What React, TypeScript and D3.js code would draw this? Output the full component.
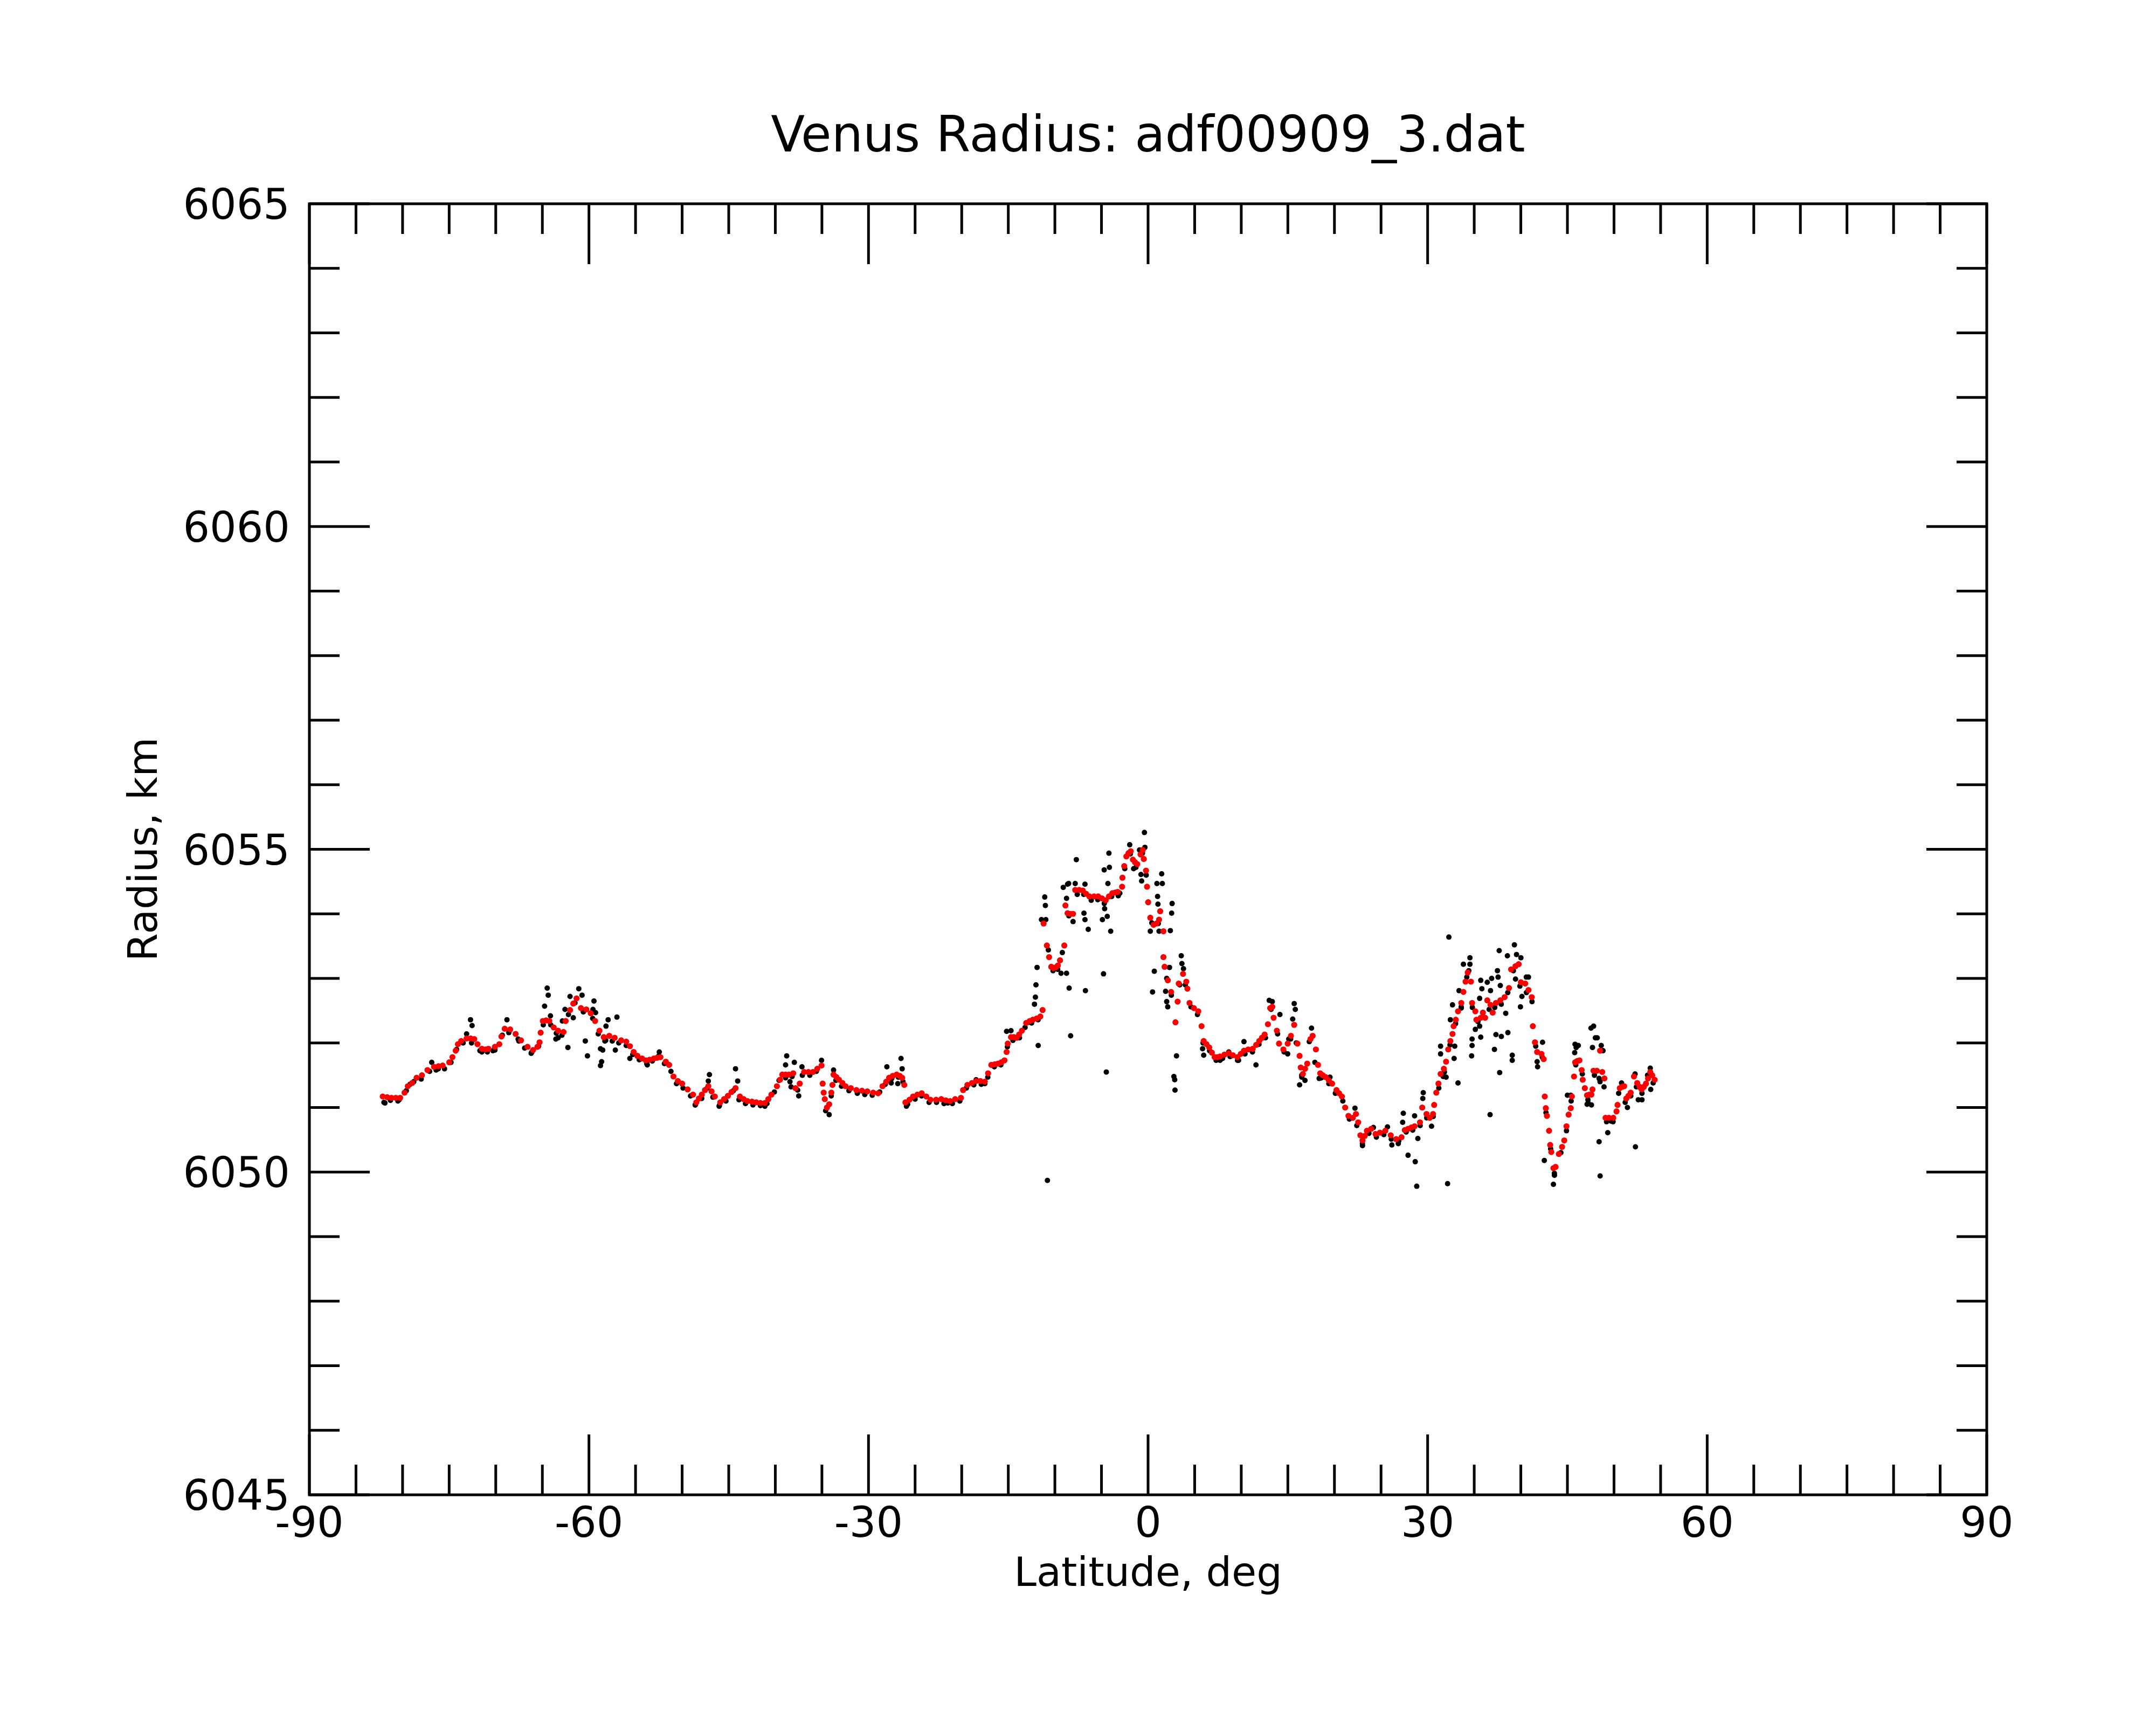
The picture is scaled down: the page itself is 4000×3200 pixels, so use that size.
import { useMemo } from 'react';
import * as d3 from 'd3';

// Smoothed radius (red), [latitude deg, radius km]
const smoothSouth: [number, number][] = [
  [-82.13, 6051.17], [-81.65, 6051.16], [-81.19, 6051.15], [-80.72, 6051.15], [-80.26, 6051.15], [-79.79, 6051.23],
  [-79.44, 6051.33], [-78.97, 6051.38], [-78.5, 6051.46], [-77.92, 6051.5], [-77.33, 6051.58], [-76.63, 6051.63],
  [-76.15, 6051.64], [-75.7, 6051.65], [-74.99, 6051.7], [-74.65, 6051.78], [-74.3, 6051.88], [-74.06, 6051.98],
  [-73.71, 6052.03], [-73.13, 6052.07], [-72.7, 6052.07], [-72.31, 6052.06], [-71.96, 6051.98], [-71.49, 6051.91],
  [-71.1, 6051.9], [-70.79, 6051.91], [-70.09, 6051.94], [-69.62, 6051.98], [-69.39, 6052.1], [-69.04, 6052.22],
  [-68.45, 6052.21], [-67.87, 6052.14], [-67.29, 6052.04], [-66.59, 6051.94], [-66.0, 6051.89], [-65.53, 6051.94],
  [-65.3, 6052.01], [-65.18, 6052.16], [-64.95, 6052.34], [-64.6, 6052.35], [-64.25, 6052.34], [-63.78, 6052.24],
  [-63.31, 6052.19], [-62.73, 6052.17], [-62.5, 6052.34], [-62.03, 6052.51], [-61.68, 6052.61], [-61.33, 6052.69],
  [-60.86, 6052.54], [-60.28, 6052.52], [-59.81, 6052.46], [-59.34, 6052.34], [-58.87, 6052.19], [-58.41, 6052.09],
  [-57.82, 6052.11], [-57.24, 6052.08], [-56.54, 6052.04], [-56.0, 6052.02], [-55.6, 6051.95], [-55.2, 6051.86],
  [-54.8, 6051.8], [-54.3, 6051.76], [-53.9, 6051.73], [-53.5, 6051.74], [-53.03, 6051.76], [-52.7, 6051.77],
  [-52.33, 6051.78], [-51.75, 6051.71], [-51.4, 6051.66], [-50.93, 6051.48], [-50.46, 6051.41], [-50.0, 6051.37],
  [-49.41, 6051.28], [-48.83, 6051.2], [-48.48, 6051.08], [-48.2, 6051.14], [-47.89, 6051.2], [-47.55, 6051.27],
  [-47.19, 6051.33], [-46.84, 6051.25], [-46.49, 6051.17], [-45.91, 6051.08], [-45.5, 6051.13], [-45.09, 6051.18],
  [-44.7, 6051.24], [-44.27, 6051.3], [-43.8, 6051.17], [-43.4, 6051.13], [-42.99, 6051.1], [-42.5, 6051.09],
  [-42.05, 6051.08], [-41.6, 6051.07], [-41.12, 6051.07], [-40.75, 6051.13], [-40.42, 6051.2], [-39.83, 6051.33],
  [-39.5, 6051.43], [-39.25, 6051.51], [-38.9, 6051.51], [-38.54, 6051.51], [-38.08, 6051.53], [-37.84, 6051.3],
  [-37.38, 6051.37], [-36.91, 6051.55], [-36.45, 6051.55], [-35.97, 6051.55], [-35.5, 6051.6], [-35.04, 6051.65],
  [-34.92, 6051.37], [-34.81, 6051.23], [-34.69, 6051.13], [-34.46, 6051.0], [-34.22, 6051.05], [-33.99, 6051.23],
  [-33.87, 6051.35], [-33.75, 6051.51], [-33.45, 6051.47], [-33.17, 6051.43], [-32.8, 6051.38], [-32.47, 6051.33],
  [-31.9, 6051.3], [-31.3, 6051.27], [-30.7, 6051.26], [-30.13, 6051.25], [-29.5, 6051.23], [-28.96, 6051.22],
  [-28.5, 6051.33], [-28.1, 6051.4], [-27.79, 6051.46], [-27.4, 6051.49], [-26.98, 6051.51], [-26.65, 6051.49],
  [-26.39, 6051.46], [-26.16, 6051.35], [-26.04, 6051.08], [-25.6, 6051.12], [-25.22, 6051.17], [-24.75, 6051.2],
  [-24.29, 6051.22], [-23.8, 6051.17], [-23.35, 6051.12], [-22.75, 6051.12], [-22.19, 6051.13], [-21.7, 6051.11],
  [-21.25, 6051.1], [-20.7, 6051.13], [-20.08, 6051.15],
];

const smoothEquator: [number, number][] = [
  [-19.85, 6051.27], [-19.39, 6051.35], [-18.9, 6051.38], [-18.45, 6051.41], [-18.0, 6051.41], [-17.52, 6051.4],
  [-17.17, 6051.53], [-16.82, 6051.66], [-16.45, 6051.67], [-16.11, 6051.68], [-15.75, 6051.7], [-15.41, 6051.73],
  [-15.18, 6051.86], [-15.06, 6051.99], [-14.71, 6052.09], [-14.4, 6052.09], [-14.13, 6052.08], [-13.84, 6052.13],
  [-13.54, 6052.19], [-13.08, 6052.31], [-12.7, 6052.34], [-12.37, 6052.36], [-11.95, 6052.38], [-11.56, 6052.41],
  [-11.32, 6052.51], [-11.21, 6053.85], [-10.86, 6053.51], [-10.62, 6053.33], [-10.39, 6053.18], [-10.15, 6053.16],
  [-9.92, 6053.17], [-9.68, 6053.2], [-9.45, 6053.28], [-8.99, 6053.51], [-8.87, 6054.13], [-8.64, 6054.01],
  [-8.35, 6054.0], [-8.05, 6054.0], [-7.82, 6054.37], [-7.4, 6054.37], [-7.0, 6054.36], [-6.65, 6054.31],
  [-6.3, 6054.27], [-5.8, 6054.27], [-5.36, 6054.27], [-4.95, 6054.24], [-4.55, 6054.21], [-4.2, 6054.27],
  [-3.84, 6054.32], [-3.55, 6054.33], [-3.26, 6054.34], [-2.79, 6054.42], [-2.75, 6054.56], [-2.56, 6054.74],
  [-2.33, 6054.89], [-2.1, 6054.94], [-1.86, 6054.97], [-1.63, 6054.84], [-1.4, 6054.8], [-1.16, 6054.77],
  [-0.81, 6054.92], [-0.57, 6054.99], [-0.46, 6054.85], [-0.22, 6054.67], [-0.11, 6054.42], [0.01, 6054.18],
  [0.24, 6053.94], [0.59, 6053.83], [0.9, 6053.85], [1.18, 6053.91], [1.3, 6054.04], [1.65, 6053.73],
  [1.65, 6053.33], [1.77, 6053.18], [2.12, 6052.97], [2.47, 6052.79], [2.94, 6052.32], [3.17, 6052.64],
  [3.29, 6052.92], [3.75, 6053.07], [4.1, 6052.95], [4.22, 6052.84], [4.45, 6052.62], [4.92, 6052.54],
  [5.39, 6052.49], [5.74, 6052.26], [5.97, 6052.03], [6.27, 6051.98], [6.56, 6051.93], [6.85, 6051.85],
  [7.14, 6051.78], [7.43, 6051.78], [7.72, 6051.79], [8.2, 6051.82], [8.66, 6051.84], [9.1, 6051.81],
  [9.59, 6051.78], [9.95, 6051.83], [10.29, 6051.88], [10.75, 6051.9], [11.23, 6051.91], [11.6, 6051.97],
  [11.93, 6052.03], [12.22, 6052.08], [12.51, 6052.13], [12.86, 6052.29], [13.1, 6052.54], [13.33, 6052.56],
];

const smoothNorth: [number, number][] = [
  [13.47, 6052.39], [13.82, 6052.19], [14.05, 6051.99], [14.52, 6051.9], [14.98, 6051.99], [15.33, 6052.11],
  [15.68, 6052.28], [16.03, 6051.99], [16.26, 6051.8], [16.38, 6051.62], [16.61, 6051.52], [16.85, 6051.6],
  [17.08, 6051.68], [17.43, 6052.06], [17.66, 6052.11], [18.01, 6051.9], [18.24, 6051.66], [18.47, 6051.53],
  [18.75, 6051.5], [19.06, 6051.47], [19.4, 6051.42], [19.75, 6051.37], [20.22, 6051.27], [20.5, 6051.22],
  [20.8, 6051.17], [21.15, 6051.0], [21.5, 6050.87], [21.97, 6050.84], [22.31, 6050.9], [22.55, 6050.77],
  [22.78, 6050.57], [23.01, 6050.49], [23.25, 6050.56], [23.48, 6050.64], [23.94, 6050.67], [24.41, 6050.59],
  [24.88, 6050.61], [25.46, 6050.64], [26.04, 6050.57], [26.62, 6050.51], [27.2, 6050.54], [27.55, 6050.65],
  [27.9, 6050.67], [28.25, 6050.69], [28.6, 6050.71], [29.18, 6050.77], [29.42, 6051.0], [29.88, 6050.9],
  [30.23, 6050.84], [30.58, 6050.9], [30.7, 6051.04], [30.93, 6051.23], [31.16, 6051.37], [31.39, 6051.52],
  [31.74, 6051.6], [31.98, 6051.71], [32.21, 6051.9], [32.44, 6052.03], [32.67, 6052.14], [32.79, 6052.26],
  [33.02, 6052.36], [33.26, 6052.49], [33.61, 6052.62], [33.84, 6052.79], [34.07, 6052.95], [34.3, 6053.09],
  [34.65, 6052.95], [34.77, 6052.62], [35.12, 6052.49], [35.23, 6052.36], [35.7, 6052.39], [35.93, 6052.47],
  [36.17, 6052.39], [36.4, 6052.66], [36.75, 6052.59], [36.98, 6052.47], [37.33, 6052.62], [37.8, 6052.66],
  [38.26, 6052.71], [38.73, 6052.85], [38.96, 6053.14], [39.43, 6053.19], [39.77, 6053.22], [40.01, 6052.94],
  [40.47, 6052.92], [40.82, 6052.82], [41.17, 6052.71], [41.29, 6052.26], [41.52, 6052.01], [41.75, 6051.86],
  [42.22, 6051.83], [42.45, 6051.75], [42.57, 6051.17], [42.68, 6050.99], [42.8, 6050.87], [43.03, 6050.64],
  [43.15, 6050.42], [43.27, 6050.31], [43.5, 6050.06], [43.73, 6050.08], [44.08, 6050.28], [44.43, 6050.39],
  [44.66, 6050.49], [44.9, 6050.71], [45.13, 6050.89], [45.36, 6050.99], [45.48, 6051.17], [45.71, 6051.48],
  [45.83, 6051.7], [46.05, 6051.72], [46.29, 6051.73], [46.53, 6051.58], [46.64, 6051.43], [46.87, 6051.3],
  [47.11, 6051.19], [47.35, 6051.2], [47.57, 6051.2], [47.69, 6051.28], [47.8, 6051.57], [48.16, 6051.57],
  [48.5, 6051.88], [48.74, 6051.55], [48.97, 6051.45], [49.09, 6050.84], [49.45, 6050.84], [49.92, 6050.84],
  [50.27, 6050.94], [50.38, 6051.04], [50.62, 6051.3], [50.85, 6051.32], [51.09, 6051.33], [51.32, 6051.14],
  [51.55, 6051.18], [51.79, 6051.23], [52.14, 6051.48], [52.49, 6051.38], [52.75, 6051.32], [52.96, 6051.28],
  [53.2, 6051.32], [53.43, 6051.37], [53.65, 6051.45], [53.89, 6051.55], [54.1, 6051.5], [54.36, 6051.43],
];

// Raw radius (black): samples lying along the profile
const rawTrack: [number, number][] = [
  [-82.0, 6051.08], [-81.3, 6051.11], [-80.5, 6051.1], [-79.6, 6051.26], [-78.8, 6051.4], [-78.0, 6051.44],
  [-77.1, 6051.56], [-76.4, 6051.58], [-75.5, 6051.6], [-74.8, 6051.7], [-74.2, 6051.9], [-73.5, 6052.0],
  [-72.6, 6052.0], [-71.7, 6051.88], [-70.9, 6051.86], [-70.3, 6051.88], [-69.3, 6052.12], [-68.6, 6052.16],
  [-67.6, 6052.06], [-66.9, 6051.92], [-66.2, 6051.84], [-65.4, 6051.95], [-64.9, 6052.28], [-64.1, 6052.28],
  [-63.5, 6052.15], [-62.9, 6052.12], [-62.2, 6052.44], [-61.5, 6052.62], [-60.6, 6052.48], [-59.6, 6052.38],
  [-59.0, 6052.14], [-58.2, 6052.04], [-57.5, 6052.03], [-56.8, 6052.0], [-56.0, 6051.96], [-55.3, 6051.82],
  [-54.6, 6051.74], [-53.8, 6051.68], [-53.2, 6051.72], [-52.5, 6051.8], [-51.9, 6051.68], [-51.2, 6051.56],
  [-50.6, 6051.37], [-49.9, 6051.3], [-49.1, 6051.18], [-48.6, 6051.04], [-47.9, 6051.14], [-47.3, 6051.3],
  [-46.7, 6051.16], [-46.0, 6051.03], [-45.3, 6051.1], [-44.5, 6051.26], [-43.9, 6051.12], [-43.2, 6051.06],
  [-42.4, 6051.04], [-41.6, 6051.03], [-40.9, 6051.06], [-40.1, 6051.24], [-39.6, 6051.42], [-38.9, 6051.46],
  [-38.2, 6051.48], [-37.6, 6051.27], [-37.1, 6051.5], [-36.3, 6051.5], [-35.6, 6051.56], [-34.6, 6050.95],
  [-34.0, 6051.18], [-33.5, 6051.42], [-32.9, 6051.33], [-32.1, 6051.26], [-31.2, 6051.22], [-30.4, 6051.2],
  [-29.6, 6051.19], [-28.8, 6051.24], [-28.2, 6051.36], [-27.5, 6051.45], [-26.8, 6051.47], [-26.3, 6051.4],
  [-25.8, 6051.05], [-25.0, 6051.13], [-24.3, 6051.18], [-23.5, 6051.08], [-22.7, 6051.08], [-21.9, 6051.06],
  [-21.0, 6051.06], [-20.2, 6051.1], [-19.5, 6051.3], [-18.7, 6051.35], [-17.9, 6051.36], [-17.2, 6051.47],
  [-16.5, 6051.63], [-15.8, 6051.66], [-15.1, 6051.94], [-14.5, 6052.04], [-13.8, 6052.08], [-13.2, 6052.24],
  [-12.5, 6052.31], [-11.8, 6052.36], [-10.7, 6053.44], [-10.2, 6053.12], [-9.7, 6053.14], [-9.2, 6053.4],
  [-8.5, 6053.97], [-7.6, 6054.3], [-6.9, 6054.3], [-6.1, 6054.21], [-5.4, 6054.22], [-4.7, 6054.16],
  [-3.9, 6054.27], [-3.2, 6054.28], [-2.5, 6054.7], [-1.9, 6054.93], [-1.3, 6054.72], [-0.6, 6054.94],
  [-0.2, 6054.6], [0.4, 6053.86], [1.1, 6053.85], [2.0, 6053.0], [2.5, 6052.74], [3.4, 6052.9],
  [4.0, 6052.9], [4.6, 6052.56], [5.3, 6052.44], [5.9, 6052.0], [6.6, 6051.88], [7.3, 6051.73],
  [8.0, 6051.76], [8.8, 6051.79], [9.6, 6051.73], [10.4, 6051.83], [11.2, 6051.86], [11.9, 6051.98],
  [12.6, 6052.08], [13.2, 6052.52], [13.9, 6052.14], [14.6, 6051.86], [15.3, 6052.06], [15.9, 6052.0],
  [16.5, 6051.47], [17.3, 6052.02], [17.9, 6051.7], [18.6, 6051.46], [19.4, 6051.37], [20.1, 6051.22],
  [20.9, 6051.1], [21.6, 6050.82], [22.4, 6050.72], [23.0, 6050.44], [23.7, 6050.6], [24.5, 6050.54],
  [25.3, 6050.58], [26.1, 6050.51], [26.9, 6050.48], [27.7, 6050.62], [28.4, 6050.65], [29.2, 6050.72],
  [29.9, 6050.84], [30.6, 6050.86], [31.2, 6051.3], [31.8, 6051.55], [32.4, 6051.97], [33.0, 6052.3],
  [33.6, 6052.56], [34.2, 6053.02], [34.8, 6052.55], [35.4, 6052.33], [36.0, 6052.4], [36.6, 6052.52],
  [37.2, 6052.55], [37.9, 6052.6], [38.6, 6052.78], [39.2, 6053.12], [39.9, 6052.88], [40.6, 6052.78],
  [41.2, 6052.64], [41.6, 6051.95], [42.3, 6051.78], [42.7, 6050.92], [43.2, 6050.36], [43.6, 6049.98],
  [44.3, 6050.3], [44.9, 6050.64], [45.4, 6051.1], [45.9, 6051.66], [46.6, 6051.52], [47.2, 6051.12],
  [47.9, 6051.5], [48.5, 6051.4], [49.2, 6050.78], [49.9, 6050.78], [50.5, 6051.22], [51.2, 6051.08],
  [51.8, 6051.18], [52.4, 6051.32], [53.0, 6051.22], [53.6, 6051.5], [54.2, 6051.38],
];

// Raw radius (black): scattered samples away from the profile
const rawScatter: [number, number][] = [
  [-81.89, 6051.07], [-80.37, 6051.12], [-79.2, 6051.36], [-76.87, 6051.7], [-76.17, 6051.6], [-73.13, 6052.14],
  [-72.71, 6052.36], [-72.54, 6052.27], [-71.49, 6051.86], [-70.09, 6051.89], [-68.8, 6052.36], [-67.52, 6052.03],
  [-66.12, 6051.86], [-64.48, 6052.85], [-64.37, 6052.74], [-64.76, 6052.57], [-64.13, 6052.42], [-63.55, 6052.06],
  [-63.31, 6052.08], [-62.57, 6052.52], [-62.85, 6052.34], [-62.26, 6051.93], [-62.03, 6052.72], [-61.68, 6052.39],
  [-61.09, 6052.84], [-60.74, 6052.74], [-60.39, 6052.03], [-60.16, 6051.8], [-59.57, 6052.52], [-59.46, 6052.65],
  [-59.29, 6052.47], [-58.76, 6051.91], [-58.52, 6051.89], [-58.64, 6051.71], [-58.76, 6051.65], [-58.29, 6052.03],
  [-58.17, 6052.26], [-57.94, 6052.36], [-57.17, 6051.89], [-57.0, 6052.4], [-55.61, 6051.76], [-53.74, 6051.66],
  [-52.45, 6051.86], [-48.59, 6051.04], [-47.19, 6051.41], [-47.07, 6051.51], [-46.03, 6051.02], [-44.27, 6051.6],
  [-44.04, 6051.41], [-41.12, 6051.02], [-38.9, 6051.66], [-38.78, 6051.8], [-38.43, 6051.4], [-38.31, 6051.32],
  [-37.96, 6051.7], [-37.49, 6051.18], [-37.14, 6051.63], [-35.04, 6051.73], [-34.22, 6050.89], [-33.75, 6051.58],
  [-28.03, 6051.63], [-27.56, 6051.38], [-26.86, 6051.37], [-26.51, 6051.76], [-26.39, 6051.6], [-25.93, 6051.02],
  [-21.49, 6051.07], [-18.45, 6051.43], [-17.52, 6051.37], [-15.18, 6052.18], [-14.71, 6052.19], [-12.84, 6052.32],
  [-12.19, 6052.6], [-12.09, 6052.71], [-12.03, 6052.9], [-11.91, 6053.17], [-11.79, 6051.96], [-11.44, 6053.91],
  [-11.09, 6054.26], [-11.02, 6054.13], [-10.97, 6053.91], [-10.8, 6049.87], [-9.34, 6053.08], [-9.1, 6054.41],
  [-8.75, 6053.08], [-8.75, 6054.24], [-8.64, 6054.46], [-8.52, 6054.47], [-8.47, 6052.85], [-8.31, 6052.11],
  [-8.05, 6053.88], [-7.82, 6054.47], [-7.7, 6054.84], [-6.88, 6054.01], [-6.77, 6054.46], [-6.77, 6053.91],
  [-6.72, 6052.81], [-6.42, 6053.76], [-4.9, 6053.91], [-4.78, 6053.07], [-4.71, 6054.68], [-4.66, 6054.08],
  [-4.48, 6051.55], [-4.38, 6053.96], [-4.31, 6054.47], [-4.2, 6054.94], [-4.15, 6054.72], [-4.01, 6053.73],
  [-3.03, 6054.32], [-1.97, 6055.07], [-1.55, 6054.7], [-0.92, 6054.99], [-0.76, 6054.61], [-0.69, 6054.51],
  [-0.39, 6055.26], [-0.34, 6055.03], [0.24, 6053.73], [0.48, 6052.79], [0.67, 6053.11], [0.95, 6054.47],
  [1.02, 6054.27], [1.06, 6054.15], [1.18, 6053.73], [1.46, 6054.62], [1.53, 6054.47], [1.88, 6052.8],
  [2.0, 6052.64], [2.11, 6052.56], [2.3, 6053.17], [2.39, 6053.74], [2.53, 6054.01], [2.58, 6054.16],
  [2.77, 6051.48], [2.86, 6051.43], [2.89, 6051.27], [3.05, 6051.8], [3.56, 6053.35], [3.63, 6053.23],
  [3.8, 6053.15], [5.85, 6051.91], [5.97, 6051.81], [7.72, 6051.73], [8.66, 6051.86], [9.71, 6051.73],
  [10.29, 6052.02], [11.58, 6051.66], [13.0, 6052.66], [13.33, 6052.64], [14.15, 6052.44], [14.98, 6051.83],
  [15.1, 6052.06], [15.52, 6052.37], [15.68, 6052.61], [15.8, 6052.52], [16.26, 6051.35], [16.49, 6051.5],
  [16.84, 6051.42], [17.54, 6052.23], [18.36, 6051.45], [19.52, 6051.47], [22.2, 6050.99], [23.01, 6050.41],
  [24.18, 6050.69], [25.69, 6050.7], [26.16, 6050.42], [26.85, 6050.44], [27.32, 6050.77], [27.39, 6050.91],
  [27.9, 6050.26], [28.6, 6050.87], [28.67, 6050.16], [28.83, 6049.78], [28.95, 6050.52], [29.48, 6051.14],
  [29.53, 6051.23], [30.42, 6050.71], [31.39, 6051.95], [31.39, 6051.83], [31.67, 6051.48], [31.98, 6051.47],
  [32.14, 6049.82], [32.28, 6053.64], [32.44, 6052.36], [32.67, 6052.59], [32.84, 6051.76], [32.91, 6051.95],
  [33.26, 6051.38], [33.37, 6052.81], [33.61, 6052.54], [33.84, 6053.22], [34.42, 6053.12], [34.54, 6053.32],
  [34.54, 6053.22], [34.72, 6051.8], [34.77, 6052.06], [34.77, 6051.96], [35.12, 6052.21], [35.58, 6052.69],
  [35.58, 6052.26], [35.7, 6052.97], [35.7, 6052.09], [35.82, 6052.84], [36.4, 6052.94], [36.7, 6050.89],
  [36.75, 6052.81], [36.87, 6053.0], [37.17, 6051.9], [37.33, 6052.13], [37.49, 6053.12], [37.56, 6053.02],
  [37.68, 6053.43], [37.73, 6051.54], [37.8, 6052.89], [37.91, 6052.1], [38.38, 6052.46], [38.56, 6053.35],
  [38.61, 6052.16], [39.08, 6051.81], [39.08, 6051.73], [39.31, 6053.52], [39.43, 6052.99], [39.54, 6053.37],
  [39.96, 6052.56], [40.01, 6053.32], [40.12, 6052.72], [40.59, 6053.02], [40.82, 6053.02], [41.75, 6051.71],
  [41.8, 6051.63], [42.33, 6052.01], [42.52, 6050.18], [42.8, 6050.87], [43.5, 6049.81], [43.61, 6049.95],
  [45.0, 6051.19], [45.36, 6051.19], [45.78, 6051.85], [45.82, 6051.98], [45.94, 6051.93], [46.17, 6051.96],
  [47.11, 6051.05], [47.22, 6051.07], [47.53, 6052.23], [47.58, 6051.04], [47.69, 6051.93], [47.81, 6052.26],
  [48.0, 6052.08], [48.2, 6052.08], [48.4, 6051.45], [48.4, 6050.47], [48.51, 6049.94], [48.63, 6051.96],
  [48.82, 6051.88], [48.93, 6051.32], [49.33, 6050.61], [49.68, 6050.79], [50.81, 6051.38], [51.44, 6051.0],
  [52.26, 6051.52], [52.3, 6050.39], [52.61, 6051.12], [53.0, 6051.12], [53.89, 6051.61], [53.94, 6051.28],
];

const xTickMajor = [-90, -60, -30, 0, 30, 60, 90];
const yTickMajor = [6045, 6050, 6055, 6060, 6065];

const W = 4000;
const H = 3200;
const box = { left: 574, right: 3686, top: 378, bottom: 2773 };
const FONT = '"DejaVu Sans", sans-serif';

export default function App() {
  const x = useMemo(() => d3.scaleLinear().domain([-90, 90]).range([box.left, box.right]), []);
  const y = useMemo(() => d3.scaleLinear().domain([6045, 6065]).range([box.bottom, box.top]), []);

  const xMinor = d3.range(-90, 91, 5).filter(v => v % 30 !== 0);
  const yMinor = d3.range(6045, 6066, 1).filter(v => v % 5 !== 0);
  const major = 112;
  const minor = 56;
  const sw = 5;

  const red = [...smoothSouth, ...smoothEquator, ...smoothNorth];
  const black = [...rawTrack, ...rawScatter];

  return (
    <svg width={W} height={H} style={{ position: 'absolute', left: 0, top: 0, background: '#fff' }}
      fontFamily={FONT}>
      <rect width={W} height={H} fill="#fff" />

      {/* data: raw samples under the smoothed profile */}
      <g fill="#000">
        {black.map((d, i) => <circle key={i} cx={x(d[0])} cy={y(d[1])} r={5} />)}
      </g>
      <g fill="#ff0000">
        {red.map((d, i) => <circle key={i} cx={x(d[0])} cy={y(d[1])} r={5.6} />)}
      </g>

      {/* ticks, inward on all four sides */}
      <g stroke="#000" strokeWidth={sw}>
        {xTickMajor.map(v => (
          <g key={'xM' + v}>
            <line x1={x(v)} x2={x(v)} y1={box.bottom} y2={box.bottom - major} />
            <line x1={x(v)} x2={x(v)} y1={box.top} y2={box.top + major} />
          </g>
        ))}
        {xMinor.map(v => (
          <g key={'xm' + v}>
            <line x1={x(v)} x2={x(v)} y1={box.bottom} y2={box.bottom - minor} />
            <line x1={x(v)} x2={x(v)} y1={box.top} y2={box.top + minor} />
          </g>
        ))}
        {yTickMajor.map(v => (
          <g key={'yM' + v}>
            <line x1={box.left} x2={box.left + major} y1={y(v)} y2={y(v)} />
            <line x1={box.right} x2={box.right - major} y1={y(v)} y2={y(v)} />
          </g>
        ))}
        {yMinor.map(v => (
          <g key={'ym' + v}>
            <line x1={box.left} x2={box.left + minor} y1={y(v)} y2={y(v)} />
            <line x1={box.right} x2={box.right - minor} y1={y(v)} y2={y(v)} />
          </g>
        ))}
      </g>

      <rect x={box.left} y={box.top} width={box.right - box.left} height={box.bottom - box.top}
        fill="none" stroke="#000" strokeWidth={sw} />

      {/* tick labels */}
      <g fontSize={78} fill="#000">
        {xTickMajor.map(v => (
          <text key={'xl' + v} x={x(v)} y={box.bottom + 78} textAnchor="middle">{v}</text>
        ))}
        {yTickMajor.map(v => (
          <text key={'yl' + v} x={538} y={y(v)} dy="0.36em" textAnchor="end">{v}</text>
        ))}
      </g>

      {/* titles */}
      <text x={x(0)} y={281} textAnchor="middle" fontSize={92}>Venus Radius: adf00909_3.dat</text>
      <text x={x(0)} y={2942} textAnchor="middle" fontSize={75}>Latitude, deg</text>
      <text transform={`translate(291,${(box.top + box.bottom) / 2}) rotate(-90)`} textAnchor="middle" fontSize={75}>
        Radius, km
      </text>
    </svg>
  );
}
